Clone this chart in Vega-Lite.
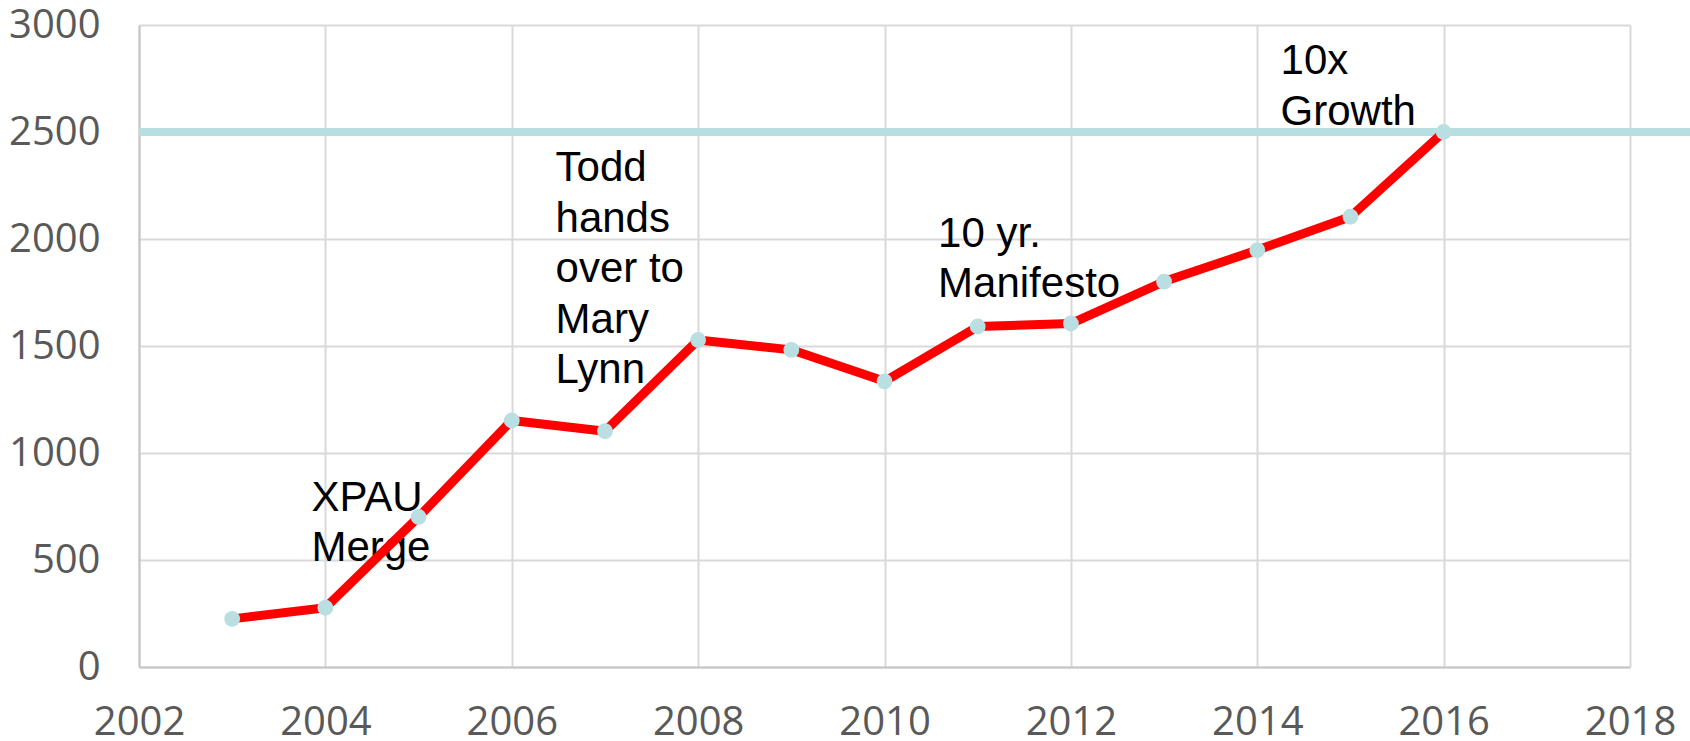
{
  "$schema": "https://vega.github.io/schema/vega-lite/v6.json",
  "width": 1491,
  "height": 642,
  "autosize": {"type": "none"},
  "padding": {"left": 139, "top": 25, "right": 60, "bottom": 74},
  "background": "white",
  "config": {
    "view": {"stroke": null},
    "axis": {
      "labelFont": "Open Sans",
      "labelFontSize": 40,
      "labelColor": "#595959",
      "ticks": false,
      "tickSize": 0,
      "title": null,
      "gridColor": "#d9d9d9",
      "gridWidth": 2,
      "domainColor": "#c6c6c6",
      "domainWidth": 2
    }
  },
  "datasets": {
    "series": [
      {"year": 2003, "members": 225},
      {"year": 2004, "members": 277},
      {"year": 2005, "members": 701},
      {"year": 2006, "members": 1152},
      {"year": 2007, "members": 1102},
      {"year": 2008, "members": 1528},
      {"year": 2009, "members": 1482},
      {"year": 2010, "members": 1335},
      {"year": 2011, "members": 1591},
      {"year": 2012, "members": 1605},
      {"year": 2013, "members": 1801},
      {"year": 2014, "members": 1948},
      {"year": 2015, "members": 2104},
      {"year": 2016, "members": 2500}
    ],
    "target": [
      {"start": 2002, "end": 2018.7, "goal": 2500}
    ],
    "notes": [
      {"x": 2003.85, "y": 729, "label": ["XPAU", "Merge"]},
      {"x": 2006.47, "y": 2271, "label": ["Todd", "hands", "over to", "Mary", "Lynn"]},
      {"x": 2010.575, "y": 1963, "label": ["10 yr.", "Manifesto"]},
      {"x": 2014.25, "y": 2771, "label": ["10x", "Growth"]}
    ]
  },
  "layer": [
    {
      "data": {"name": "target"},
      "mark": {"type": "rule", "color": "#b7dee1", "strokeWidth": 8, "clip": false},
      "encoding": {
        "x": {
          "field": "start", "type": "quantitative",
          "scale": {"domain": [2002, 2018], "nice": false, "zero": false},
          "axis": {
            "values": [2002, 2004, 2006, 2008, 2010, 2012, 2014, 2016, 2018],
            "format": "d",
            "labelPadding": 35,
            "labelFlush": false,
            "labelOverlap": false
          }
        },
        "x2": {"field": "end"},
        "y": {
          "field": "goal", "type": "quantitative",
          "scale": {"domain": [0, 3000], "nice": false},
          "axis": {
            "values": [0, 500, 1000, 1500, 2000, 2500, 3000],
            "format": "d",
            "labelPadding": 39,
            "labelFlush": false,
            "labelOverlap": false
          }
        }
      }
    },
    {
      "data": {"name": "notes"},
      "mark": {
        "type": "text",
        "font": "Liberation Sans",
        "fontSize": 42,
        "lineHeight": 50.5,
        "align": "left",
        "baseline": "alphabetic",
        "color": "black"
      },
      "encoding": {
        "x": {"field": "x", "type": "quantitative"},
        "y": {"field": "y", "type": "quantitative"},
        "text": {"field": "label"}
      }
    },
    {
      "data": {"name": "series"},
      "mark": {"type": "line", "color": "#ff0000", "strokeWidth": 9, "strokeJoin": "round", "strokeCap": "butt"},
      "encoding": {
        "x": {"field": "year", "type": "quantitative"},
        "y": {"field": "members", "type": "quantitative"}
      }
    },
    {
      "data": {"name": "series"},
      "mark": {"type": "point", "filled": true, "color": "#b9dfe2", "opacity": 1, "size": 250},
      "encoding": {
        "x": {"field": "year", "type": "quantitative"},
        "y": {"field": "members", "type": "quantitative"}
      }
    }
  ]
}
